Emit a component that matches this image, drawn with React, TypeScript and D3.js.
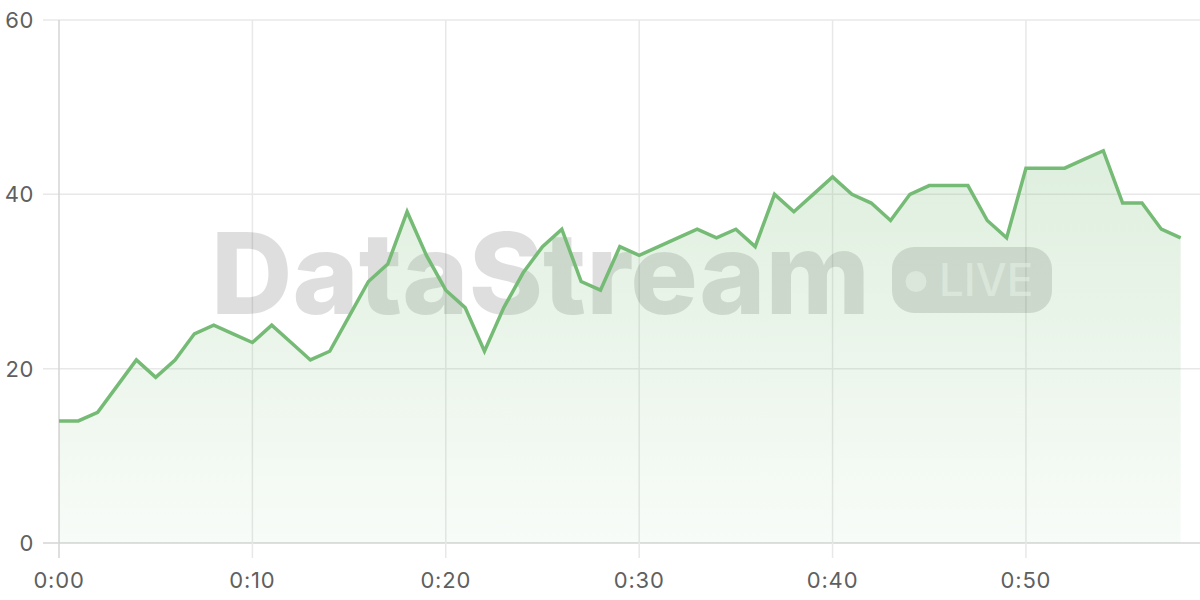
import React, { useEffect, useRef } from "react";
import * as d3 from "d3";

const minutes: number[] = d3.range(0, 59);
const values: number[] = [
  14, 14, 15, 18, 21, 19, 21, 24, 25, 24,
  23, 25, 23, 21, 22, 26, 30, 32, 38, 33,
  29, 27, 22, 27, 31, 34, 36, 30, 29, 34,
  33, 34, 35, 36, 35, 36, 34, 40, 38, 40,
  42, 40, 39, 37, 40, 41, 41, 41, 37, 35,
  43, 43, 43, 44, 45, 39, 39, 36, 35,
];
const yTicks: number[] = [0, 20, 40, 60];
const xTicks: number[] = [0, 10, 20, 30, 40, 50];
const xTickLabels: string[] = ["0:00", "0:10", "0:20", "0:30", "0:40", "0:50"];

const W = 1200;
const H = 600;
const LEFT = 59;
const RIGHT = 1200;
const TOP = 20;
const BOTTOM = 543;
const FONT = "Inter, 'Noto Sans', sans-serif";

export default function App() {
  const ref = useRef<SVGSVGElement | null>(null);

  useEffect(() => {
    const svg = d3.select(ref.current);
    svg.selectAll("*").remove();

    const x = d3.scaleLinear().domain([0, 59]).range([LEFT, RIGHT]);
    const y = d3.scaleLinear().domain([0, 60]).range([BOTTOM, TOP]);

    const defs = svg.append("defs");
    const grad = defs
      .append("linearGradient")
      .attr("id", "areaGrad")
      .attr("gradientUnits", "userSpaceOnUse")
      .attr("x1", 0)
      .attr("x2", 0)
      .attr("y1", y(60))
      .attr("y2", y(0));
    grad.append("stop").attr("offset", "0%").attr("stop-color", "rgb(117,187,117)").attr("stop-opacity", 0.3);
    grad.append("stop").attr("offset", "100%").attr("stop-color", "rgb(117,187,117)").attr("stop-opacity", 0.05);

    // grid
    const g = svg.append("g");
    yTicks.forEach((t) => {
      g.append("line")
        .attr("x1", LEFT - 16)
        .attr("x2", RIGHT)
        .attr("y1", y(t))
        .attr("y2", y(t))
        .attr("stroke", t === 0 ? "#d4d4d4" : "#e8e8e8")
        .attr("stroke-width", 1.5);
      g.append("text")
        .attr("x", 34)
        .attr("y", y(t))
        .attr("dy", "0.36em")
        .attr("text-anchor", "end")
        .attr("font-family", FONT)
        .attr("font-size", 22)
        .attr("letter-spacing", 0.6)
        .attr("fill", "#5f5f5f")
        .text(String(t));
    });
    xTicks.forEach((t, i) => {
      g.append("line")
        .attr("x1", x(t))
        .attr("x2", x(t))
        .attr("y1", TOP)
        .attr("y2", BOTTOM + 15)
        .attr("stroke", t === 0 ? "#d4d4d4" : "#e8e8e8")
        .attr("stroke-width", 1.5);
      g.append("text")
        .attr("x", x(t))
        .attr("y", 580)
        .attr("dy", "0.36em")
        .attr("text-anchor", "middle")
        .attr("font-family", FONT)
        .attr("font-size", 22)
        .attr("letter-spacing", 0.8)
        .attr("fill", "#5f5f5f")
        .text(xTickLabels[i]);
    });

    // watermark
    const wm = svg.append("g");
    wm.append("text")
      .attr("x", 211)
      .attr("y", 314)
      .attr("font-family", "Inter, 'Open Sans', sans-serif")
      .attr("font-weight", 800)
      .attr("font-size", 113)
      .attr("textLength", 659)
      .attr("lengthAdjust", "spacingAndGlyphs")
      .attr("fill", "rgba(0,0,0,0.13)")
      .text("DataStream");
    wm.append("rect")
      .attr("x", 892)
      .attr("y", 247)
      .attr("width", 160)
      .attr("height", 66)
      .attr("rx", 22)
      .attr("fill", "rgba(0,0,0,0.13)");
    wm.append("circle")
      .attr("cx", 916)
      .attr("cy", 281.5)
      .attr("r", 10.5)
      .attr("fill", "rgba(255,255,255,0.55)");
    wm.append("text")
      .attr("x", 939)
      .attr("y", 296)
      .attr("font-family", "Inter, 'Open Sans', sans-serif")
      .attr("font-weight", 500)
      .attr("font-size", 45)
      .attr("textLength", 94)
      .attr("lengthAdjust", "spacingAndGlyphs")
      .attr("fill", "rgba(255,255,255,0.55)")
      .text("LIVE");

    // area + line
    const area = d3
      .area<number>()
      .x((_, i) => x(minutes[i]))
      .y0(y(0))
      .y1((d) => y(d));
    const line = d3
      .line<number>()
      .x((_, i) => x(minutes[i]))
      .y((d) => y(d));

    svg.append("path").attr("d", area(values) as string).attr("fill", "url(#areaGrad)");
    svg
      .append("path")
      .attr("d", line(values) as string)
      .attr("fill", "none")
      .attr("stroke", "rgb(117,187,117)")
      .attr("stroke-width", 3.5)
      .attr("stroke-linejoin", "miter");
  }, []);

  return (
    <svg
      ref={ref}
      width={W}
      height={H}
      style={{ position: "absolute", left: 0, top: 0, background: "#fff" }}
    />
  );
}
